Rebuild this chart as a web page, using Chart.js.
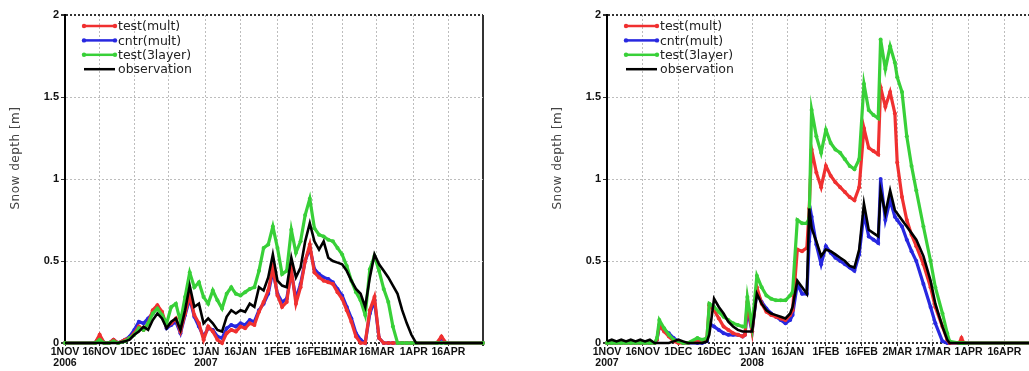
<!DOCTYPE html>
<html>
<head>
<meta charset="utf-8">
<script src="https://cdn.jsdelivr.net/npm/chart.js@4"></script>
<style>
  html, body { margin: 0; padding: 0; background: #fff; overflow: hidden; width: 1029px; height: 371px; }
  canvas { position: absolute; top: 0; }
  #left { left: 0; }
  #right { left: 542px; }
</style>
</head>
<body>
<canvas id="left" width="500" height="371"></canvas>
<canvas id="right" width="515" height="371"></canvas>
<script>
// series names (legend) and y axis
const seriesNames = ['test(mult)', 'cntr(mult)', 'test(3layer)', 'observation'];
const yTicks = [0, 0.5, 1, 1.5, 2];
const yTickLabels = ['0', '0.5', '1', '1.5', '2'];

// ---- winter 2006/2007 (days since 1 Nov 2006) ----
const leftTickDays = [0, 15, 30, 45, 61, 76, 92, 107, 120, 135, 151, 166, 181];
const leftTickLabels = [['1NOV', '2006'], '16NOV', '1DEC', '16DEC', ['1JAN', '2007'], '16JAN', '1FEB', '16FEB', '1MAR', '16MAR', '1APR', '16APR', ''];
const leftDays = [0, 13, 15, 17, 19, 21, 23,
  26, 28, 30, 32, 34, 36, 38, 40, 42, 44, 46, 48, 50, 52, 54, 56, 58, 60, 62, 64, 66, 68, 70, 72, 74, 76, 78, 80,
  82, 84, 86, 88, 90, 92, 94, 96, 98, 100, 102, 104, 106, 108, 110, 112, 114, 116, 118, 120, 122, 124, 126, 128,
  130, 132, 134, 136, 138, 140, 142, 144, 146, 148, 150, 152, 161, 163, 165, 181];
const leftTestMult = [0, 0, 0.05, 0, 0, 0.02, 0,
  0.02, 0.03, 0.06, 0.10, 0.08, 0.12, 0.20, 0.23, 0.19, 0.10, 0.12, 0.15, 0.07, 0.18, 0.29, 0.17, 0.12, 0.02, 0.10, 0.07, 0.02, 0.00, 0.06, 0.08, 0.07, 0.10, 0.09, 0.12,
  0.11, 0.19, 0.25, 0.32, 0.46, 0.29, 0.22, 0.25, 0.45, 0.24, 0.34, 0.50, 0.60, 0.43, 0.40, 0.38, 0.37, 0.36, 0.31, 0.27, 0.20, 0.13, 0.04, 0,
  0, 0.20, 0.28, 0.03, 0, 0, 0, 0, 0, 0, 0, 0, 0, 0.04, 0, 0];
const leftCntrMult = [0, 0, 0.04, 0, 0, 0.02, 0,
  0.02, 0.04, 0.08, 0.13, 0.12, 0.15, 0.18, 0.22, 0.18, 0.09, 0.11, 0.13, 0.06, 0.17, 0.27, 0.16, 0.10, 0.04, 0.09, 0.08, 0.04, 0.03, 0.09, 0.11, 0.10, 0.12, 0.11, 0.14,
  0.13, 0.20, 0.24, 0.30, 0.44, 0.30, 0.25, 0.27, 0.43, 0.27, 0.36, 0.50, 0.58, 0.45, 0.42, 0.40, 0.39, 0.37, 0.33, 0.29, 0.22, 0.15, 0.06, 0.02,
  0, 0.18, 0.26, 0.03, 0, 0, 0, 0, 0, 0, 0, 0, 0, 0.03, 0, 0];
const leftTest3layer = [0, 0, 0.02, 0, 0, 0.01, 0,
  0.01, 0.03, 0.05, 0.09, 0.08, 0.12, 0.18, 0.21, 0.17, 0.12, 0.22, 0.24, 0.13, 0.28, 0.43, 0.34, 0.37, 0.28, 0.24, 0.32, 0.26, 0.21, 0.30, 0.34, 0.30, 0.29, 0.31, 0.33,
  0.34, 0.44, 0.58, 0.60, 0.71, 0.58, 0.42, 0.44, 0.69, 0.55, 0.62, 0.78, 0.88, 0.70, 0.66, 0.65, 0.63, 0.62, 0.58, 0.54, 0.47, 0.38, 0.31, 0.26,
  0.17, 0.45, 0.53, 0.44, 0.33, 0.25, 0.10, 0, 0, 0, 0, 0, 0, 0, 0, 0];
const leftObs = [0, 0, 0, 0, 0, 0, 0,
  0.01, 0.02, 0.05, 0.07, 0.10, 0.08, 0.14, 0.18, 0.15, 0.09, 0.13, 0.15, 0.08, 0.20, 0.35, 0.22, 0.24, 0.12, 0.15, 0.12, 0.08, 0.07, 0.16, 0.20, 0.18, 0.20, 0.19, 0.24,
  0.22, 0.34, 0.32, 0.40, 0.54, 0.38, 0.35, 0.34, 0.52, 0.40, 0.46, 0.62, 0.73, 0.62, 0.57, 0.62, 0.52, 0.50, 0.49, 0.48, 0.44, 0.38, 0.33, 0.30,
  0.22, 0.40, 0.54, 0.48, 0.44, 0.40, 0.35, 0.30, 0.20, 0.12, 0.05, 0, 0, 0, 0, 0];

// ---- winter 2007/2008 (days since 1 Nov 2007) ----
const rightTickDays = [0, 15, 30, 45, 61, 76, 92, 107, 122, 137, 152, 167, 182];
const rightTickLabels = [['1NOV', '2007'], '16NOV', '1DEC', '16DEC', ['1JAN', '2008'], '16JAN', '1FEB', '16FEB', '2MAR', '17MAR', '1APR', '16APR', ''];
const rightDays = [0, 2, 4, 6, 8, 10, 12, 14, 16, 18, 20,
  21, 22, 24, 26, 28, 30, 32, 34, 38, 40, 42,
  43, 45, 47, 49, 51, 53, 55, 57,
  58, 59, 61, 63, 65, 67, 69, 71, 73, 75, 77, 78,
  80, 82, 84, 85, 86, 88, 90, 92, 94, 96, 98, 100, 102, 104, 106, 108, 110, 112, 114,
  115, 117, 119, 121, 122, 124, 126, 128, 130, 133, 136, 138, 141, 143, 144, 148, 149, 150, 182];
const rightTestMult = [0, 0, 0, 0, 0, 0, 0, 0, 0, 0, 0,
  0.02, 0.11, 0.07, 0.04, 0.01, 0, 0, 0, 0.02, 0.01, 0.03,
  0.23, 0.20, 0.15, 0.10, 0.08, 0.06, 0.05, 0.04,
  0.05, 0.25, 0.07, 0.34, 0.24, 0.19, 0.17, 0.16, 0.15, 0.14, 0.17, 0.20,
  0.57, 0.56, 0.58, 0.82, 1.18, 1.04, 0.95, 1.08, 1.02, 0.98, 0.95, 0.92, 0.89, 0.87, 0.95, 1.31, 1.19, 1.17, 1.15,
  1.56, 1.44, 1.53, 1.40, 1.10, 0.89, 0.75, 0.66, 0.59, 0.48, 0.34, 0.22, 0.10, 0.02, 0, 0, 0.03, 0, 0];
const rightCntrMult = [0, 0, 0, 0, 0, 0, 0, 0, 0, 0, 0,
  0.02, 0.10, 0.08, 0.06, 0.03, 0.01, 0, 0, 0, 0, 0.01,
  0.12, 0.10, 0.08, 0.06, 0.05, 0.05, 0.05, 0.04,
  0.05, 0.20, 0.07, 0.31, 0.25, 0.21, 0.18, 0.16, 0.14, 0.12, 0.14, 0.17,
  0.36, 0.30, 0.30, 0.62, 0.77, 0.60, 0.48, 0.59, 0.55, 0.52, 0.50, 0.48, 0.46, 0.44, 0.54, 0.79, 0.65, 0.63, 0.61,
  1.00, 0.75, 0.87, 0.77, 0.75, 0.71, 0.63, 0.56, 0.50, 0.36, 0.22, 0.12, 0.01, 0, 0, 0, 0.01, 0, 0];
const rightTest3layer = [0, 0, 0, 0, 0, 0, 0, 0, 0, 0, 0,
  0.03, 0.14, 0.09, 0.05, 0.02, 0.01, 0, 0, 0.03, 0.02, 0.03,
  0.24, 0.22, 0.19, 0.16, 0.14, 0.12, 0.11, 0.10,
  0.10, 0.28, 0.10, 0.41, 0.34, 0.29, 0.27, 0.26, 0.26, 0.26, 0.29, 0.31,
  0.75, 0.73, 0.73, 0.76, 1.42, 1.26, 1.16, 1.30, 1.22, 1.18, 1.16, 1.12, 1.08, 1.06, 1.12, 1.58, 1.42, 1.39, 1.37,
  1.85, 1.67, 1.81, 1.71, 1.62, 1.53, 1.26, 1.08, 0.93, 0.71, 0.50, 0.34, 0.18, 0.06, 0.01, 0, 0, 0, 0];
const rightObs = [0.01, 0.02, 0.01, 0.02, 0.01, 0.02, 0.01, 0.02, 0.01, 0.02, 0,
  0, 0, 0, 0, 0.01, 0.02, 0.01, 0, 0, 0, 0.01,
  0.05, 0.27, 0.22, 0.18, 0.13, 0.10, 0.08, 0.07,
  0.07, 0.07, 0.07, 0.30, 0.24, 0.20, 0.18, 0.17, 0.16, 0.15, 0.18, 0.22,
  0.38, 0.34, 0.30, 0.82, 0.70, 0.62, 0.53, 0.57, 0.56, 0.54, 0.52, 0.50, 0.47, 0.46, 0.57, 0.85, 0.69, 0.67, 0.65,
  0.93, 0.79, 0.93, 0.81, 0.79, 0.75, 0.71, 0.67, 0.63, 0.53, 0.38, 0.24, 0.10, 0.02, 0, 0, 0, 0, 0];

const colors = ['#f03030', '#2828e0', '#38d038', '#000000'];
const xTickFont = { family: "'Liberation Sans', Arial, sans-serif", size: 10.5, weight: 'bold', lineHeight: 1.1 };
const yTickFont = { family: "'Liberation Sans', Arial, sans-serif", size: 11, weight: 'bold' };

// legend inside the plot + rotated y title
const decor = {
  id: 'decor',
  afterDraw(chart) {
    const ctx = chart.ctx;
    const a = chart.chartArea;
    ctx.save();
    ctx.font = "12.5px 'DejaVu Sans', sans-serif";
    ctx.textBaseline = 'middle';
    seriesNames.forEach((name, i) => {
      const y = a.top + 11 + i * 14.4;
      const x1 = a.left + 19, x2 = a.left + 50;
      ctx.strokeStyle = colors[i];
      ctx.lineWidth = 2.5;
      ctx.beginPath(); ctx.moveTo(x1, y); ctx.lineTo(x2, y); ctx.stroke();
      if (i < 3) {
        ctx.fillStyle = colors[i];
        [x1, x2].forEach(x => { ctx.beginPath(); ctx.arc(x, y, 2.2, 0, Math.PI * 2); ctx.fill(); });
      }
      ctx.fillStyle = '#222';
      ctx.textAlign = 'left';
      ctx.fillText(name, a.left + 53, y + 1);
    });
    ctx.translate(16, 158);
    ctx.rotate(-Math.PI / 2);
    ctx.textAlign = 'center';
    ctx.fillStyle = '#444';
    ctx.font = "12px 'DejaVu Sans', sans-serif";
    ctx.letterSpacing = '0.5px';
    ctx.fillText('Snow depth [m]', 0, 0);
    ctx.restore();
  }
};

function makePanel(id, days, series, tickDays, tickLabels, maxDay) {
  const order = [2, 3, 1, 0];
  new Chart(document.getElementById(id), {
    type: 'line',
    data: {
      datasets: series.map((vals, i) => ({
        label: seriesNames[i],
        data: days.map((d, j) => ({ x: d, y: vals[j] })),
        borderColor: colors[i],
        backgroundColor: colors[i],
        borderWidth: i === 3 ? 2.6 : 3.2,
        pointRadius: i === 3 ? 0 : 2,
        pointBorderWidth: 0,
        pointBackgroundColor: colors[i],
        tension: 0,
        clip: 4,
        order: order[i]
      }))
    },
    options: {
      responsive: false,
      animation: false,
      events: [],
      layout: { padding: { left: 0, right: 17, top: 15, bottom: 0 } },
      plugins: { legend: { display: false }, tooltip: { enabled: false } },
      scales: {
        x: {
          type: 'linear',
          min: 0,
          max: maxDay,
          afterBuildTicks: s => { s.ticks = tickDays.map(v => ({ value: v })); },
          afterFit: s => { s.height = 28; },
          ticks: {
            autoSkip: false,
            maxRotation: 0,
            minRotation: 0,
            padding: 0,
            color: '#111',
            font: xTickFont,
            callback: (v, i) => tickLabels[i]
          },
          grid: {
            color: c => c.tick && c.tick.value === 0 ? 'rgba(0,0,0,0)' : (c.tick && c.tick.value === maxDay ? '#333' : '#bdbdbd'),
            lineWidth: c => c.tick && c.tick.value === maxDay ? 2 : 1,
            tickLength: 3,
            tickColor: '#333'
          },
          border: {
            display: false,
            dash: c => c.tick && c.tick.value === maxDay ? [] : [2, 2]
          }
        },
        y: {
          min: 0,
          max: 2,
          afterBuildTicks: s => { s.ticks = yTicks.map(v => ({ value: v })); },
          afterFit: s => { s.width = 65; },
          ticks: {
            padding: 2,
            color: '#111',
            font: yTickFont,
            callback: (v, i) => yTickLabels[i]
          },
          grid: {
            color: c => c.tick && (c.tick.value === 0 || c.tick.value === 2) ? '#333' : '#bdbdbd',
            lineWidth: c => c.tick && (c.tick.value === 0 || c.tick.value === 2) ? 2 : 1,
            tickLength: 4,
            tickColor: '#333'
          },
          border: { display: true, color: '#000', width: 2, dash: [2, 2] }
        }
      }
    },
    plugins: [decor]
  });
}

makePanel('left', leftDays, [leftTestMult, leftCntrMult, leftTest3layer, leftObs], leftTickDays, leftTickLabels, 181);
makePanel('right', rightDays, [rightTestMult, rightCntrMult, rightTest3layer, rightObs], rightTickDays, rightTickLabels, 182);
</script>
</body>
</html>
